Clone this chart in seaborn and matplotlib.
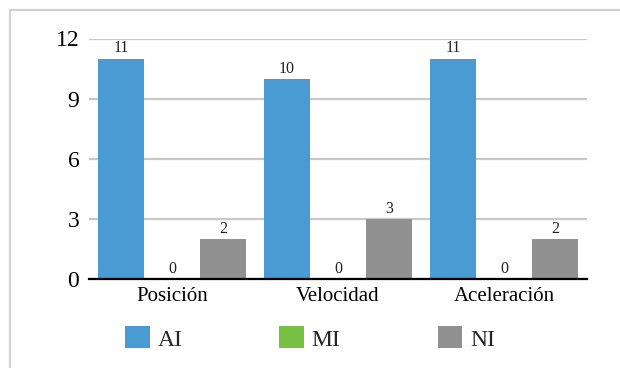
import matplotlib
matplotlib.use("Agg")
import matplotlib.pyplot as plt
from matplotlib.patches import Rectangle
import seaborn as sns
import pandas as pd

categories = ["Posición", "Velocidad", "Aceleración"]
series_names = ["AI", "MI", "NI"]
ai_values = [11, 10, 11]
mi_values = [0, 0, 0]
ni_values = [2, 3, 2]
y_ticks = [0, 3, 6, 9, 12]
colors = ["#4A9BD4", "#76C043", "#919191"]

rows = []
for name, vals in zip(series_names, [ai_values, mi_values, ni_values]):
    for cat, v in zip(categories, vals):
        rows.append({"categoria": cat, "serie": name, "valor": v})
df = pd.DataFrame(rows)

sns.set_theme(style="white")
plt.rcParams["font.family"] = ["Liberation Serif", "DejaVu Serif"]

fig = plt.figure(figsize=(6.2, 3.68), dpi=100)
ax = fig.add_axes([89 / 620, 1 - 279 / 368, (587 - 89) / 620, (279 - 38.5) / 368])

sns.barplot(data=df, x="categoria", y="valor", hue="serie", order=categories,
            hue_order=series_names, palette=colors, width=0.92, gap=0.1,
            saturation=1, linewidth=0, edgecolor="none", ax=ax, legend=True)

for cont in ax.containers:
    ax.bar_label(cont, fmt="%d", padding=1.5, fontsize=11.5, color="#222222")

ax.set_ylim(0, 12)
ax.set_xlim(-0.5, 2.5)
ax.set_yticks(y_ticks)
ax.yaxis.grid(True, color="#c8c8c8", linewidth=1.6)
ax.set_axisbelow(True)
ax.set_xlabel("")
ax.set_ylabel("")
for side in ["left", "right", "top"]:
    ax.spines[side].set_visible(False)
ax.spines["bottom"].set_color("black")
ax.spines["bottom"].set_linewidth(1.6)
ax.spines["bottom"].set_zorder(5)
ax.tick_params(axis="y", length=0, pad=7, labelsize=17, labelcolor="black")
ax.tick_params(axis="x", length=0, pad=6, labelsize=15, labelcolor="black")

handles, labels = ax.get_legend_handles_labels()
ax.get_legend().remove()
fig.legend(handles, labels, loc="center", bbox_to_anchor=(0.5, 1 - 338.5 / 368),
           ncol=3, frameon=False, fontsize=17, handlelength=1.05, handleheight=1.05,
           handletextpad=0.33, columnspacing=4.1)

# outer border of the chart area
fig.patches.append(Rectangle((10 / 620, -0.1), 1.2, 1 - 10 / 368 + 0.1,
                             transform=fig.transFigure, fill=False,
                             edgecolor="#d0d0d0", linewidth=1.5))

fig.savefig("out.png", dpi=100)
